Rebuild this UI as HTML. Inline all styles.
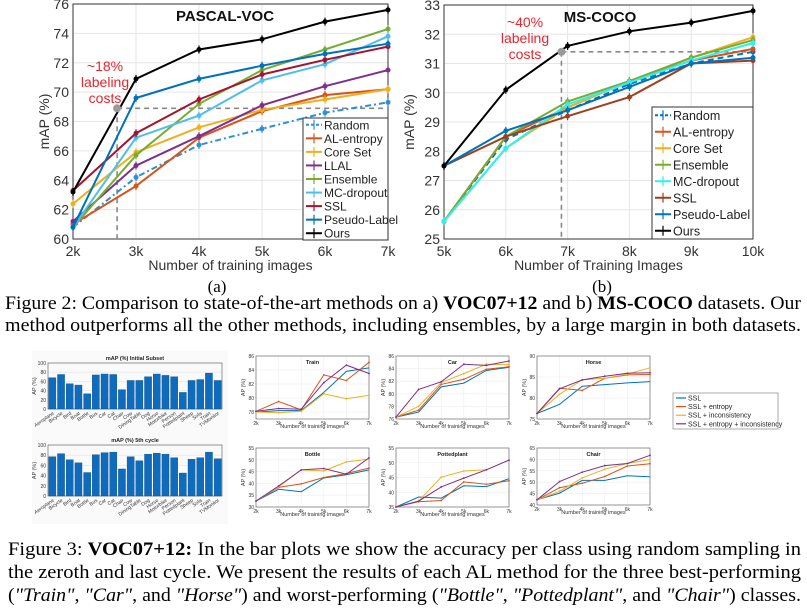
<!DOCTYPE html>
<html><head><meta charset="utf-8"><style>
html,body{margin:0;padding:0;background:#fff;width:807px;height:609px;overflow:hidden}
svg{display:block;font-family:"Liberation Sans",sans-serif}
.cap{font-family:"Liberation Serif","Times New Roman",serif}
</style></head><body>
<svg id="s" width="807" height="609" viewBox="0 0 807 609">
<text class="cap" x="217" y="292" font-size="17" text-anchor="middle">(a)</text>
<text class="cap" x="602" y="292" font-size="17" text-anchor="middle">(b)</text>
<text class="cap" x="5" y="309" font-size="19" textLength="796" lengthAdjust="spacingAndGlyphs">Figure 2: Comparison to state-of-the-art methods on a) <tspan font-weight="bold">VOC07+12</tspan> and b) <tspan font-weight="bold">MS-COCO</tspan> datasets. Our</text>
<text class="cap" x="5" y="331" font-size="19" textLength="796" lengthAdjust="spacingAndGlyphs">method outperforms all the other methods, including ensembles, by a large margin in both datasets.</text>
<text class="cap" x="8" y="555" font-size="19" textLength="793" lengthAdjust="spacingAndGlyphs">Figure 3: <tspan font-weight="bold">VOC07+12:</tspan> In the bar plots we show the accuracy per class using random sampling in</text>
<text class="cap" x="8" y="578" font-size="19" textLength="793" lengthAdjust="spacingAndGlyphs">the zeroth and last cycle. We present the results of each AL method for the three best-performing</text>
<text class="cap" x="8" y="601" font-size="19" textLength="793" lengthAdjust="spacingAndGlyphs">(<tspan font-style="italic">"Train"</tspan>, <tspan font-style="italic">"Car"</tspan>, and <tspan font-style="italic">"Horse"</tspan>) and worst-performing (<tspan font-style="italic">"Bottle"</tspan>, <tspan font-style="italic">"Pottedplant"</tspan>, and <tspan font-style="italic">"Chair"</tspan>) classes.</text>
</svg>
<script>
// ---- Panel (a) data ----
const vocX = [2,3,4,5,6,7];
const vocXLabels = ["2k","3k","4k","5k","6k","7k"];
const vocYTicks = [60,62,64,66,68,70,72,74,76];
const vocNames = ["Random","AL-entropy","Core Set","LLAL","Ensemble","MC-dropout","SSL","Pseudo-Label","Ours"];
const vocRandom = [60.8,64.2,66.4,67.5,68.6,69.3];
const vocEntropy = [61.0,63.6,66.9,68.7,69.8,70.2];
const vocCoreSet = [62.4,65.9,67.6,68.8,69.5,70.2];
const vocLLAL = [61.2,65.0,67.0,69.1,70.4,71.5];
const vocEnsemble = [60.8,65.7,69.2,71.5,72.9,74.3];
const vocMC = [60.8,66.9,68.4,70.8,71.9,73.8];
const vocSSL = [63.3,67.2,69.5,71.2,72.2,73.1];
const vocPseudo = [60.8,69.6,70.9,71.8,72.6,73.3];
const vocOurs = [63.2,70.9,72.9,73.6,74.8,75.6];
// ---- Panel (b) data ----
const cocoX = [5,6,7,8,9,10];
const cocoXLabels = ["5k","6k","7k","8k","9k","10k"];
const cocoYTicks = [25,26,27,28,29,30,31,32,33];
const cocoNames = ["Random","AL-entropy","Core Set","Ensemble","MC-dropout","SSL","Pseudo-Label","Ours"];
const cocoRandom = [25.6,28.4,29.4,30.3,31.0,31.4];
const cocoEntropy = [25.6,28.5,29.5,30.4,31.1,31.5];
const cocoCoreSet = [25.6,28.1,29.5,30.4,31.2,31.9];
const cocoEnsemble = [25.6,28.5,29.7,30.4,31.2,31.8];
const cocoMC = [25.6,28.1,29.6,30.35,31.1,31.7];
const cocoSSL = [27.5,28.5,29.2,29.85,31.0,31.1];
const cocoPseudo = [27.5,28.7,29.4,30.2,31.0,31.2];
const cocoOurs = [27.5,30.1,31.6,32.1,32.4,32.8];
// ---- Bar charts ----
const classes = ["Aeroplane","Bicycle","Bird","Boat","Bottle","Bus","Car","Cat","Chair","Cow","DiningTable","Dog","Horse","Motorbike","Person","Pottedplant","Sheep","Sofa","Train","TVMonitor"];
const apInitial = [68,75,55,52,33,74,76,75,42,62,62,70,76,73,70,36,62,64,78,62];
const apFifth = [77,83,71,65,46,81,85,86,53,77,69,82,84,82,75,45,72,75,86,73];
const barTicks = [0,20,40,60,80,100];
// ---- Small line charts ----
const smallX = [2,3,4,5,6,7];
const smallXLabels = ["2k","3k","4k","5k","6k","7k"];
const smallNames = ["SSL","SSL + entropy","SSL + inconsistency","SSL + entropy + inconsistency"];
const trainSSL=[78.0,78.2,78.2,80.8,83.8,84.3], trainEnt=[78.1,79.5,78.3,83.3,82.5,85.1], trainInc=[78.0,77.9,78.1,80.6,79.9,80.4], trainBoth=[78.1,78.5,78.4,82.2,84.7,83.5];
const carSSL=[76.3,77.1,81.1,81.7,83.7,84.2], carEnt=[76.3,77.4,81.5,82.3,83.9,84.3], carInc=[76.3,78.0,81.8,83.2,84.7,84.6], carBoth=[76.3,80.7,81.9,84.7,84.5,85.2];
const horseSSL=[76.3,78.5,82.8,83.2,83.6,83.9], horseEnt=[76.3,82.3,81.8,84.7,85.5,85.6], horseInc=[76.3,80.9,84.3,84.7,85.7,87.2], horseBoth=[76.3,82.2,84.3,85.2,85.9,86.0];
const bottleSSL=[32.5,37.5,36.5,42.3,43.7,45.7], bottleEnt=[32.5,38.3,39.8,42.5,44.2,46.5], bottleInc=[32.5,38.5,45.7,45.3,49.1,50.3], bottleBoth=[32.5,38.9,45.7,46.3,43.9,50.8];
const potSSL=[35,38.4,38.0,42.2,41.9,44.6], potEnt=[35,36.8,37.2,43.5,42.7,43.9], potInc=[35,37.0,45.1,47.2,47.6,50.9], potBoth=[35,37.0,41.8,44.8,47.6,50.9];
const chairSSL=[42.3,45.2,50.8,50.8,52.8,52.4], chairEnt=[42.3,47.6,49.5,52.5,57.1,58.1], chairInc=[42.3,46.0,51.9,55.7,58.2,59.9], chairBoth=[42.3,50.3,54.4,57.3,58.2,61.8];
const trainTicks=[78,80,82,84,86], carTicks=[76,78,80,82,84,86], horseTicks=[75,80,85,90], bottleTicks=[30,35,40,45,50,55], potTicks=[35,40,45,50,55], chairTicks=[40,45,50,55,60,65];

const S=document.getElementById('s');
const NS='http://www.w3.org/2000/svg';
function mk(tag,attrs,parent,txt){const e=document.createElementNS(NS,tag);for(const k in attrs)e.setAttribute(k,attrs[k]);if(txt!==undefined)e.textContent=txt;(parent||S).appendChild(e);return e;}
function pts(xs,ys,fx,fy){return xs.map((x,i)=>fx(x).toFixed(1)+','+fy(ys[i]).toFixed(1)).join(' ');}

function bigChart(o){
  const g=mk('g',{});
  
  
  const fx=v=>o.x0+(v-o.xmin)/(o.xmax-o.xmin)*(o.x1-o.x0);
  const fy=v=>o.y1-(v-o.ymin)/(o.ymax-o.ymin)*(o.y1-o.y0);
  o.xs.forEach(v=>mk('line',{x1:fx(v),x2:fx(v),y1:o.y0,y2:o.y1,stroke:'#e6e6e6'},g));
  o.yt.forEach(v=>mk('line',{x1:o.x0,x2:o.x1,y1:fy(v),y2:fy(v),stroke:'#e6e6e6'},g));
  mk('rect',{x:o.x0,y:o.y0,width:o.x1-o.x0,height:o.y1-o.y0,fill:'none',stroke:'#333','stroke-width':1},g);
  o.yt.forEach(v=>{const t=mk('text',{x:o.x0-4,y:fy(v)+5,'font-size':14,'text-anchor':'end',fill:'#333'},g,String(v));});
  o.xs.forEach((v,i)=>{const t=mk('text',{x:fx(v),y:o.y1+17,'font-size':14,'text-anchor':'middle',fill:'#333'},g,o.xl[i]);});
  const xt=mk('text',{x:(o.x0+o.x1)/2,y:o.y1+31,'font-size':14,'text-anchor':'middle',fill:'#333'},g,o.xlabel);
  
  const yc=(o.y0+o.y1)/2;
  const yt=mk('text',{x:o.ylx,y:yc,'font-size':14,'text-anchor':'middle',fill:'#333',transform:`rotate(-90 ${o.ylx} ${yc})`},g,'mAP (%)');
  
  const tt=mk('text',{x:o.tx,y:o.y0+17,'font-size':15,'font-weight':'bold','text-anchor':'middle',fill:'#111'},g,o.title);
  
  const a=o.ann;
  mk('line',{x1:fx(a.x),x2:fx(o.xmax),y1:fy(a.y),y2:fy(a.y),stroke:'#888','stroke-width':1.6,'stroke-dasharray':'5,4'},g);
  mk('line',{x1:fx(a.x),x2:fx(a.x),y1:fy(a.y),y2:o.y1,stroke:'#888','stroke-width':1.6,'stroke-dasharray':'5,4'},g);
  a.lines.forEach((l,i)=>{const t=mk('text',{x:a.tx,y:a.ty+i*16,'font-size':14,'text-anchor':'middle',fill:'#e8262d'},g,l);});
  o.series.forEach(s=>{
    const sg=mk('g',{},g);
    
    
    mk('polyline',{points:pts(o.xs,s.v,fx,fy),fill:'none',stroke:s.c,'stroke-width':2,'stroke-dasharray':s.d||'none'},sg);
    o.xs.forEach((x,i)=>{const px=fx(x),py=fy(s.v[i]);
      mk('line',{x1:px,x2:px,y1:py-4,y2:py+4,stroke:s.c,'stroke-width':1.2},sg);
      mk('circle',{cx:px,cy:py,r:2.5,fill:s.c},sg);});
  });
  const ap=mk('circle',{cx:fx(a.x),cy:fy(a.y),r:4,fill:'#999'},g);
  
  const L=o.leg;
  const lg=mk('g',{},g);
  
  mk('rect',{x:L.x,y:L.y,width:L.w,height:L.h,fill:'#fff',stroke:'#333'},lg);
  const step=L.h/o.series.length;
  o.series.forEach((s,i)=>{const cy=L.y+step*(i+0.5);
    const e=mk('g',{},lg);
    mk('line',{x1:L.x+3,x2:L.x+19,y1:cy,y2:cy,stroke:s.c,'stroke-width':2,'stroke-dasharray':s.d?'3,2':'none'},e);
    mk('line',{x1:L.x+11,x2:L.x+11,y1:cy-5,y2:cy+5,stroke:s.c,'stroke-width':1.2},e);
    mk('text',{x:L.x+21,y:cy+4.5,'font-size':L.fs,fill:'#222'},e,s.n);});
}

bigChart({name:'pascal-voc-chart',x0:73,x1:388,y0:4,y1:239,xmin:2,xmax:7,ymin:60,ymax:76,xs:vocX,xl:vocXLabels,yt:vocYTicks,
 xlabel:'Number of training images',ylx:49,title:'PASCAL-VOC',tx:225,
 ann:{x:2.7,y:68.9,tx:105,ty:71,lines:['~18%','labeling','costs']},
 leg:{x:303,y:118,w:85,h:122,fs:12},
 series:[{n:vocNames[0],v:vocRandom,c:'#2f8fd0',d:'6,3,2,3'},{n:vocNames[1],v:vocEntropy,c:'#D95319'},{n:vocNames[2],v:vocCoreSet,c:'#EDB120'},{n:vocNames[3],v:vocLLAL,c:'#7E2F8E'},{n:vocNames[4],v:vocEnsemble,c:'#77AC30'},{n:vocNames[5],v:vocMC,c:'#4DBEEE'},{n:vocNames[6],v:vocSSL,c:'#A2142F'},{n:vocNames[7],v:vocPseudo,c:'#0072BD'},{n:vocNames[8],v:vocOurs,c:'#000'}]});

bigChart({name:'ms-coco-chart',x0:444,x1:753,y0:5,y1:239,xmin:5,xmax:10,ymin:25,ymax:33,xs:cocoX,xl:cocoXLabels,yt:cocoYTicks,
 xlabel:'Number of Training Images',ylx:414,title:'MS-COCO',tx:600,
 ann:{x:6.9,y:31.4,tx:525,ty:27,lines:['~40%','labeling','costs']},
 leg:{x:652,y:107,w:101,h:132,fs:12.5},
 series:[{n:cocoNames[0],v:cocoRandom,c:'#0072BD',d:'6,4'},{n:cocoNames[1],v:cocoEntropy,c:'#D95319'},{n:cocoNames[2],v:cocoCoreSet,c:'#EDB120'},{n:cocoNames[3],v:cocoEnsemble,c:'#77AC30'},{n:cocoNames[4],v:cocoMC,c:'#2ef0f0'},{n:cocoNames[5],v:cocoSSL,c:'#A0401a'},{n:cocoNames[6],v:cocoPseudo,c:'#0072BD'},{n:cocoNames[7],v:cocoOurs,c:'#000'}]});

function barChart(name,title,vals,x0,x1,y0,y1){
  const g=mk('g',{});
  mk('rect',{x:x0-16,y:y0-12,width:x1-x0+22,height:y1-y0+40,fill:'#fafafa'},g);
  const fy=v=>y1-v/100*(y1-y0);
  const bw=(x1-x0)/vals.length;
  barTicks.forEach(v=>{mk('line',{x1:x0,x2:x1,y1:fy(v),y2:fy(v),stroke:'#e4e4e4','stroke-width':0.6},g);
    mk('text',{x:x0-2,y:fy(v)+2,'font-size':5,'text-anchor':'end',fill:'#333'},g,String(v));});
  mk('rect',{x:x0,y:y0,width:x1-x0,height:y1-y0,fill:'none',stroke:'#555','stroke-width':0.6},g);
  vals.forEach((v,i)=>{const b=mk('rect',{x:x0+i*bw+0.8,y:fy(v),width:bw-1.6,height:fy(0)-fy(v),fill:'#0f6cbd',stroke:'#0a4f8c','stroke-width':0.4},g);
    
    const cx=x0+(i+0.5)*bw;
    mk('text',{x:cx+2,y:y1+5,'font-size':5,'text-anchor':'end',fill:'#333',transform:`rotate(-35 ${cx+2} ${y1+5})`},g,classes[i]);});
  const t=mk('text',{x:(x0+x1)/2,y:y0-3,'font-size':5.5,'font-weight':'bold','text-anchor':'middle',fill:'#222'},g,title);
  
  mk('text',{x:x0-12,y:(y0+y1)/2,'font-size':5.5,'text-anchor':'middle',fill:'#333',transform:`rotate(-90 ${x0-12} ${(y0+y1)/2})`},g,'AP (%)');
}
barChart('bar-chart-initial','mAP (%) Initial Subset',apInitial,48,222,363,409);
barChart('bar-chart-5th-cycle','mAP (%) 5th cycle',apFifth,48,222,445,496);

const smallColors=['#0072BD','#D95319','#EDB120','#7E2F8E'];
function smallChart(name,title,series,ticks,ymin,ymax,x0,x1,y0,y1){
  const g=mk('g',{});
  const fx=v=>x0+(v-2)/5*(x1-x0);
  const fy=v=>y1-(v-ymin)/(ymax-ymin)*(y1-y0);
  smallX.forEach(v=>mk('line',{x1:fx(v),x2:fx(v),y1:y0,y2:y1,stroke:'#ececec','stroke-width':0.6},g));
  ticks.forEach(v=>{mk('line',{x1:x0,x2:x1,y1:fy(v),y2:fy(v),stroke:'#ececec','stroke-width':0.6},g);
    mk('text',{x:x0-2,y:fy(v)+2,'font-size':5,'text-anchor':'end',fill:'#333'},g,String(v));});
  smallX.forEach((v,i)=>mk('text',{x:fx(v),y:y1+6,'font-size':5,'text-anchor':'middle',fill:'#333'},g,smallXLabels[i]));
  mk('rect',{x:x0,y:y0,width:x1-x0,height:y1-y0,fill:'none',stroke:'#555','stroke-width':0.6},g);
  mk('text',{x:(x0+x1)/2,y:y1+9,'font-size':5.5,'text-anchor':'middle',fill:'#333'},g,'Number of  training images');
  mk('text',{x:x0-11,y:(y0+y1)/2,'font-size':5.5,'text-anchor':'middle',fill:'#333',transform:`rotate(-90 ${x0-11} ${(y0+y1)/2})`},g,'AP (%)');
  const t=mk('text',{x:(x0+x1)/2,y:y0+8,'font-size':5.5,'font-weight':'bold','text-anchor':'middle',fill:'#222'},g,title);
  
  series.forEach((s,k)=>{const p=mk('polyline',{points:pts(smallX,s,fx,fy),fill:'none',stroke:smallColors[k],'stroke-width':1},g);
    
    if(k>0)smallX.forEach((x,i)=>mk('circle',{cx:fx(x),cy:fy(s[i]),r:0.9,fill:smallColors[k]},g));});
}
smallChart('train-chart','Train',[trainSSL,trainEnt,trainInc,trainBoth],trainTicks,77,86,256,369,356,419);
smallChart('car-chart','Car',[carSSL,carEnt,carInc,carBoth],carTicks,76,86,396,509,356,419);
smallChart('horse-chart','Horse',[horseSSL,horseEnt,horseInc,horseBoth],horseTicks,75,90,537,650,356,419);
smallChart('bottle-chart','Bottle',[bottleSSL,bottleEnt,bottleInc,bottleBoth],bottleTicks,30,55,256,369,448,507);
smallChart('pottedplant-chart','Pottedplant',[potSSL,potEnt,potInc,potBoth],potTicks,35,55,396,509,448,507);
smallChart('chair-chart','Chair',[chairSSL,chairEnt,chairInc,chairBoth],chairTicks,40,65,537,650,448,505);

const lg=mk('g',{});


mk('rect',{x:673,y:393,width:105,height:36,fill:'#fff',stroke:'#888','stroke-width':0.7},lg);
smallNames.forEach((n,k)=>{const cy=398+k*8.6;
  const e=mk('g',{},lg);
  
  
  mk('line',{x1:676,x2:686,y1:cy,y2:cy,stroke:smallColors[k],'stroke-width':1.2},e);
  mk('text',{x:688,y:cy+2.5,'font-size':7,fill:'#222'},e,n);});
</script>
</body></html>
